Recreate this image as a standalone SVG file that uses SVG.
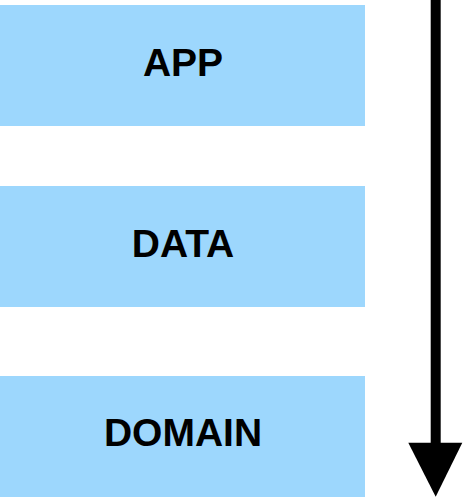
<svg xmlns="http://www.w3.org/2000/svg" width="463" height="497" viewBox="0 0 463 497">
<style>
.box{fill:#9dd7fd}
.lbl{font-family:"Liberation Sans",Arial,sans-serif;font-weight:bold;font-size:39px;fill:#000;text-anchor:middle}
</style>
<rect width="463" height="497" fill="#fff"/>
<g id="app"><rect class="box" x="0" y="5" width="365" height="121"/><text class="lbl" x="183" y="76">APP</text></g>
<g id="data"><rect class="box" x="0" y="186" width="365" height="121"/><text class="lbl" x="183" y="257">DATA</text></g>
<g id="domain"><rect class="box" x="0" y="376" width="365" height="121"/><text class="lbl" x="183" y="446">DOMAIN</text></g>
<g id="connectors">
<line x1="435.7" y1="0" x2="435.7" y2="445" stroke="#000" stroke-width="10"/>
<polygon points="408.3,442.7 462.3,442.7 435.7,496.7" fill="#000"/>
</g>
</svg>
